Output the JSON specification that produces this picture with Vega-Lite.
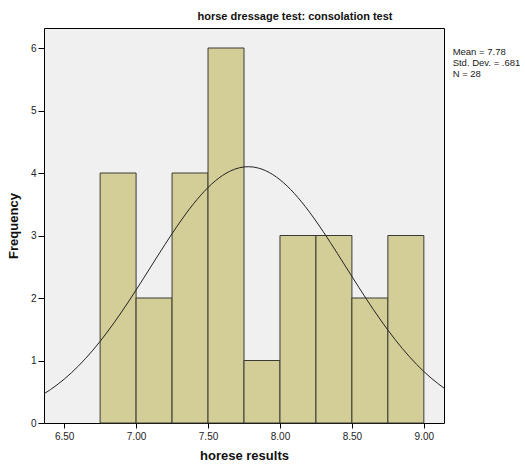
{
  "$schema": "https://vega.github.io/schema/vega-lite/v6.json",
  "width": 400,
  "height": 395,
  "autosize": {"type": "none"},
  "padding": {"left": 44, "top": 28, "right": 81, "bottom": 42},
  "background": "white",
  "title": {
    "text": "horse dressage test: consolation test",
    "fontSize": 11,
    "fontWeight": "bold",
    "color": "#111",
    "anchor": "middle",
    "dx": 51,
    "offset": 6
  },
  "config": {
    "font": "Liberation Sans",
    "view": {"fill": "#f0f0f0", "stroke": "#000", "strokeWidth": 1},
    "axis": {
      "grid": false,
      "domain": false,
      "tickColor": "#000",
      "labelColor": "#222",
      "labelFontSize": 10,
      "titleFontSize": 13,
      "titleFontWeight": "bold",
      "titleColor": "#111"
    }
  },
  "datasets": {
    "bins": [
      {"bin_start": 6.75, "bin_end": 7.0, "count": 4},
      {"bin_start": 7.0, "bin_end": 7.25, "count": 2},
      {"bin_start": 7.25, "bin_end": 7.5, "count": 4},
      {"bin_start": 7.5, "bin_end": 7.75, "count": 6},
      {"bin_start": 7.75, "bin_end": 8.0, "count": 1},
      {"bin_start": 8.0, "bin_end": 8.25, "count": 3},
      {"bin_start": 8.25, "bin_end": 8.5, "count": 3},
      {"bin_start": 8.5, "bin_end": 8.75, "count": 2},
      {"bin_start": 8.75, "bin_end": 9.0, "count": 3}
    ],
    "curve": [
      {"score": 6.36, "freq": 0.466},
      {"score": 6.45, "freq": 0.609},
      {"score": 6.55, "freq": 0.802},
      {"score": 6.65, "freq": 1.035},
      {"score": 6.75, "freq": 1.306},
      {"score": 6.85, "freq": 1.614},
      {"score": 6.95, "freq": 1.951},
      {"score": 7.05, "freq": 2.308},
      {"score": 7.15, "freq": 2.673},
      {"score": 7.25, "freq": 3.029},
      {"score": 7.35, "freq": 3.36},
      {"score": 7.45, "freq": 3.646},
      {"score": 7.55, "freq": 3.873},
      {"score": 7.65, "freq": 4.026},
      {"score": 7.72, "freq": 4.085},
      {"score": 7.78, "freq": 4.101},
      {"score": 7.85, "freq": 4.079},
      {"score": 7.95, "freq": 3.975},
      {"score": 8.05, "freq": 3.791},
      {"score": 8.15, "freq": 3.538},
      {"score": 8.25, "freq": 3.232},
      {"score": 8.35, "freq": 2.889},
      {"score": 8.45, "freq": 2.527},
      {"score": 8.55, "freq": 2.164},
      {"score": 8.65, "freq": 1.813},
      {"score": 8.75, "freq": 1.487},
      {"score": 8.85, "freq": 1.193},
      {"score": 8.95, "freq": 0.937},
      {"score": 9.05, "freq": 0.72},
      {"score": 9.14, "freq": 0.558}
    ],
    "stats": [
      {"label": "Mean = 7.78", "x": 9.2, "y": 5.93},
      {"label": "Std. Dev. = .681", "x": 9.2, "y": 5.76},
      {"label": "N = 28", "x": 9.2, "y": 5.59}
    ]
  },
  "layer": [
    {
      "data": {"name": "bins"},
      "mark": {"type": "rect", "fill": "#d3ce97", "stroke": "#3a3a32", "strokeWidth": 1},
      "encoding": {
        "x": {
          "field": "bin_start",
          "type": "quantitative",
          "scale": {"domain": [6.36, 9.14], "nice": false, "zero": false},
          "axis": {
            "values": [6.5, 7.0, 7.5, 8.0, 8.5, 9.0],
            "format": ".2f",
            "tickSize": 5,
            "labelPadding": 3,
            "titlePadding": 8
          },
          "title": "horese results"
        },
        "x2": {"field": "bin_end"},
        "y": {
          "field": "count",
          "type": "quantitative",
          "scale": {"domain": [0, 6.32], "nice": false},
          "axis": {
            "values": [0, 1, 2, 3, 4, 5, 6],
            "format": "d",
            "tickSize": 6,
            "labelPadding": 2,
            "titlePadding": 10
          },
          "title": "Frequency"
        },
        "y2": {"datum": 0}
      }
    },
    {
      "data": {"name": "curve"},
      "mark": {"type": "line", "color": "#222", "strokeWidth": 1, "interpolate": "monotone"},
      "encoding": {
        "x": {"field": "score", "type": "quantitative"},
        "y": {"field": "freq", "type": "quantitative"}
      }
    },
    {
      "data": {"name": "stats"},
      "mark": {"type": "text", "align": "left", "baseline": "middle", "fontSize": 9.5, "color": "#222"},
      "encoding": {
        "x": {"field": "x", "type": "quantitative"},
        "y": {"field": "y", "type": "quantitative"},
        "text": {"field": "label"}
      }
    }
  ]
}
